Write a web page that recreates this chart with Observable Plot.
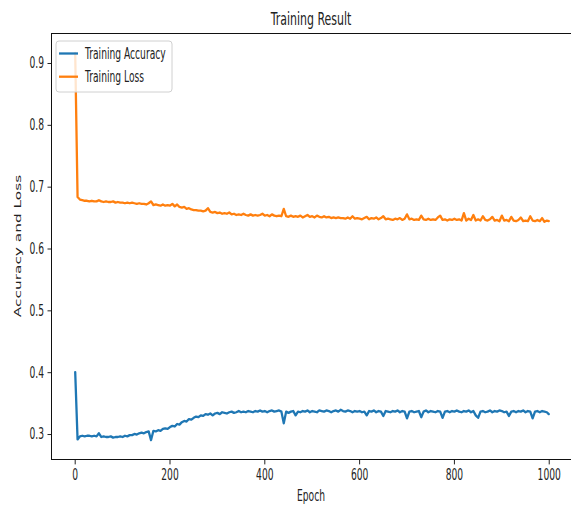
<!DOCTYPE html>
<html><head><meta charset="utf-8">
<script src="https://cdn.jsdelivr.net/npm/d3@7"></script>
<script src="https://cdn.jsdelivr.net/npm/@observablehq/plot@0.6"></script>
<style>body{margin:0;background:#fff} svg{display:block}</style>
</head><body><div id="chart"></div>
<script>
const title = "Training Result";
const xLabel = "Epoch";
const yLabel = "Accuracy and Loss";
const seriesNames = ["Training Accuracy", "Training Loss"];
const seriesColors = ["#1f77b4", "#ff7f0e"];
const xTicks = [0, 200, 400, 600, 800, 1000];
const yTicks = [0.3, 0.4, 0.5, 0.6, 0.7, 0.8, 0.9];
const xDomain = [-50, 1047];
const yDomain = [0.2596, 0.9485];

// epochs sampled every 5, plus the last epoch
const epochs = d3.range(0, 1000, 5).concat([999]);

const accuracy = [
0.401,0.292,0.297,0.298,0.297,0.298,0.298,0.297,0.298,0.297,
0.302,0.296,0.297,0.296,0.296,0.297,0.295,0.296,0.296,0.297,
0.296,0.298,0.297,0.299,0.299,0.301,0.300,0.302,0.303,0.302,
0.304,0.305,0.291,0.306,0.305,0.307,0.306,0.309,0.310,0.309,
0.312,0.314,0.313,0.317,0.316,0.320,0.322,0.321,0.325,0.324,
0.327,0.329,0.328,0.331,0.330,0.333,0.332,0.334,0.331,0.334,
0.335,0.333,0.336,0.335,0.334,0.336,0.337,0.335,0.336,0.338,
0.336,0.337,0.336,0.338,0.337,0.336,0.338,0.337,0.339,0.337,
0.338,0.336,0.338,0.339,0.337,0.338,0.339,0.337,0.318,0.337,
0.335,0.337,0.338,0.331,0.337,0.336,0.338,0.337,0.339,0.336,
0.338,0.337,0.336,0.339,0.338,0.337,0.339,0.338,0.336,0.338,
0.339,0.337,0.340,0.338,0.337,0.339,0.338,0.336,0.338,0.337,
0.338,0.336,0.337,0.331,0.338,0.337,0.339,0.336,0.338,0.337,
0.330,0.338,0.337,0.336,0.338,0.337,0.339,0.336,0.338,0.337,
0.326,0.337,0.338,0.336,0.337,0.338,0.328,0.337,0.339,0.336,
0.338,0.337,0.336,0.338,0.337,0.327,0.337,0.338,0.336,0.338,
0.337,0.339,0.337,0.336,0.338,0.337,0.339,0.336,0.338,0.331,
0.327,0.337,0.338,0.336,0.337,0.339,0.336,0.338,0.337,0.339,
0.338,0.336,0.337,0.330,0.337,0.338,0.336,0.338,0.337,0.339,
0.336,0.338,0.337,0.326,0.337,0.338,0.336,0.338,0.337,0.336,
0.333];

const loss = [
0.917,0.684,0.680,0.679,0.678,0.678,0.677,0.678,0.677,0.677,
0.679,0.677,0.676,0.677,0.676,0.676,0.677,0.675,0.676,0.675,
0.675,0.674,0.675,0.674,0.675,0.674,0.673,0.674,0.673,0.673,
0.672,0.674,0.677,0.671,0.672,0.671,0.670,0.672,0.670,0.671,
0.670,0.673,0.669,0.672,0.668,0.667,0.668,0.665,0.666,0.664,
0.663,0.663,0.662,0.662,0.661,0.662,0.666,0.660,0.659,0.660,
0.658,0.659,0.657,0.658,0.657,0.659,0.656,0.657,0.655,0.656,
0.655,0.657,0.655,0.654,0.656,0.654,0.655,0.654,0.655,0.657,
0.654,0.655,0.653,0.656,0.654,0.653,0.654,0.653,0.665,0.653,
0.652,0.654,0.652,0.653,0.652,0.654,0.651,0.653,0.655,0.652,
0.653,0.651,0.654,0.652,0.651,0.653,0.651,0.652,0.650,0.651,
0.650,0.651,0.650,0.650,0.649,0.651,0.649,0.653,0.649,0.650,
0.649,0.648,0.650,0.652,0.648,0.650,0.649,0.651,0.648,0.650,
0.653,0.648,0.649,0.648,0.647,0.649,0.648,0.650,0.647,0.649,
0.656,0.648,0.649,0.647,0.648,0.647,0.654,0.648,0.647,0.649,
0.647,0.648,0.647,0.651,0.654,0.647,0.648,0.646,0.648,0.647,
0.649,0.647,0.648,0.646,0.658,0.646,0.649,0.647,0.655,0.646,
0.648,0.646,0.653,0.647,0.646,0.648,0.652,0.646,0.647,0.645,
0.654,0.646,0.647,0.645,0.652,0.646,0.645,0.647,0.651,0.645,
0.646,0.645,0.653,0.646,0.645,0.647,0.645,0.650,0.644,0.646,
0.645];

const seriesValues = [accuracy, loss];
const rows = seriesNames.flatMap((name, s) =>
  epochs.map((e, i) => ({epoch: e, value: seriesValues[s][i], series: name})));

// the reference image is stretched: glyphs are tall and narrow
const FONT = "DejaVu Sans";
const V = 1.536, Hs = 0.915;
const baseSize = 10 * V;         // 10pt text, vertically stretched
const squeeze = Hs / V;          // horizontal squeeze of upright text
const textColor = "#222";

const plot = Plot.plot({
  width: 571, height: 505,
  marginLeft: 51, marginRight: 0, marginTop: 33, marginBottom: 46,
  style: {fontFamily: FONT, fontSize: baseSize + "px", color: textColor, background: "white"},
  x: {domain: xDomain, ticks: xTicks, tickFormat: d => String(d), tickSize: 5.4, tickPadding: 4, label: null},
  y: {domain: yDomain, ticks: yTicks, tickFormat: d => d.toFixed(1), tickSize: 3.5, tickPadding: 4, label: null},
  color: {domain: seriesNames, range: seriesColors},
  marks: [
    Plot.lineY(rows, {x: "epoch", y: "value", z: "series", stroke: "series", strokeWidth: 2.3, strokeLinejoin: "round"}),
    Plot.ruleY([yDomain[0]], {stroke: "#111", strokeWidth: 1.2}),
    Plot.ruleY([yDomain[1]], {stroke: "#111", strokeWidth: 1.2}),
    Plot.ruleX([xDomain[0]], {stroke: "#111", strokeWidth: 1})
  ]
});

document.getElementById("chart").appendChild(plot);
const svg = d3.select(plot);

// squeeze tick labels horizontally around their anchor
svg.selectAll("g[aria-label$='tick label'] text").each(function() {
  const t = this.getAttribute("transform") || "";
  this.setAttribute("transform", t + ` scale(${squeeze},1)`);
});

const xr = plot.scale("x").range;
const yr = plot.scale("y").range;
const cx = (xr[0] + xr[1]) / 2;
const cy = (yr[0] + yr[1]) / 2;

function addText(parent, str, x, y, size, anchor, rotate) {
  const rot = rotate ? " rotate(-90)" : "";
  const sc = rotate ? `scale(${V / Hs},1)` : `scale(${squeeze},1)`;
  return parent.append("text")
    .attr("transform", `translate(${x},${y})${rot} ${sc}`)
    .attr("text-anchor", anchor)
    .attr("font-family", FONT)
    .attr("font-size", size)
    .attr("fill", textColor)
    .text(str);
}

// title, axis labels
addText(svg, title, cx, 25, 12 * V, "middle", false);
addText(svg, xLabel, cx, 500.5, baseSize, "middle", false);
addText(svg, yLabel, 20.5, cy, 10 * Hs, "middle", true);

// legend
const lg = svg.append("g");
lg.append("rect").attr("x", 56).attr("y", 41).attr("width", 116).attr("height", 51)
  .attr("rx", 3).attr("fill", "white").attr("fill-opacity", 0.8)
  .attr("stroke", "#d0d0d0").attr("stroke-width", 1);
seriesNames.forEach((name, i) => {
  const y = 53.5 + i * 23.2;
  lg.append("line").attr("x1", 59).attr("x2", 78).attr("y1", y).attr("y2", y)
    .attr("stroke", seriesColors[i]).attr("stroke-width", 2.3);
  addText(lg, name, 85, y, baseSize, "start", false).attr("dy", "0.36em");
});
</script></body></html>
